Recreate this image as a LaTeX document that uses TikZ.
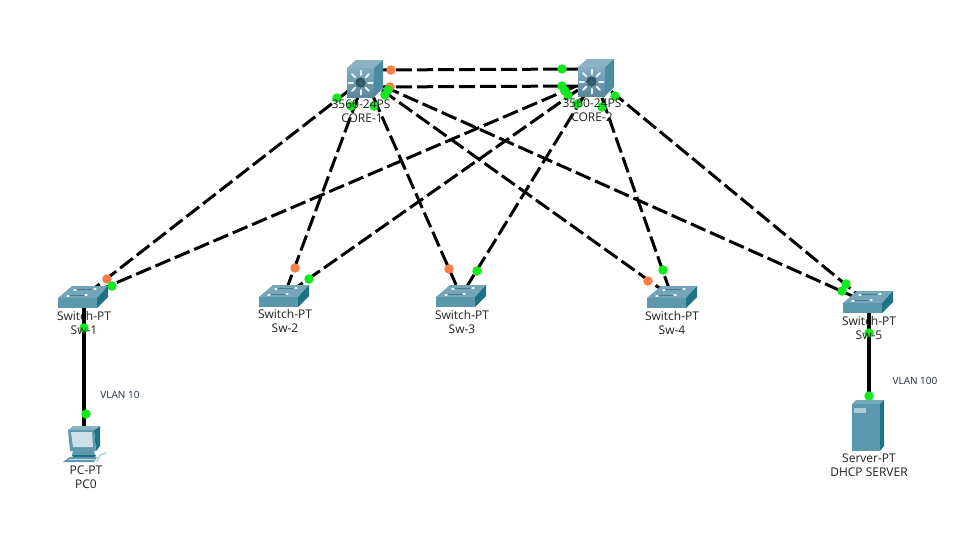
\documentclass[tikz,border=0pt]{standalone}
\usepackage{fontspec}
\setmainfont{Open Sans}
\definecolor{ledg}{HTML}{14E81E}
\definecolor{ledo}{HTML}{FA7D45}
\definecolor{tealtop}{HTML}{74A5B8}
\definecolor{tealfront}{HTML}{5B98AE}
\definecolor{tealside}{HTML}{1E7286}
\definecolor{coretop}{HTML}{8AB2C3}
\definecolor{corefront}{HTML}{6A9FB5}
\definecolor{coreside}{HTML}{4D8BA3}
\definecolor{labelc}{HTML}{202020}
\definecolor{vlanc}{HTML}{1C2A44}
\tikzset{
  trunk/.style={draw=black,line width=3pt,dash pattern=on 16pt off 5pt},
  access/.style={draw=black,line width=3.4pt},
  upg/.style={circle,fill=ledg,draw=none,minimum size=9.5pt,inner sep=0pt},
  upo/.style={circle,fill=ledo,draw=none,minimum size=9.5pt,inner sep=0pt},
  lbl/.style={font=\fontsize{12}{13}\selectfont,text=labelc,inner sep=0pt},
  vlan/.style={font=\fontsize{10}{11}\selectfont,text=vlanc,inner sep=0pt},
  switchicon/.pic={
    \fill[tealtop] (0,0) -- (14,-12) -- (50,-12) -- (39,0) -- cycle;
    \fill[tealfront] (0,0) -- (39,0) -- (39,10) -- (0,10) -- cycle;
    \fill[tealside] (39,0) -- (50,-12) -- (50,-1) -- (39,10) -- cycle;
    \draw[tealfront!80!black,line width=.6pt] (12,-3) -- (28,-3) (18,-9) -- (34,-9);
    \draw[white!90!tealtop,line width=1.3pt,line cap=round]
      (9,-2) -- (11,-2) (27,-3) -- (29,-3) (16,-8) -- (18,-8) (36,-9) -- (38,-9);
  },
  coreicon/.pic={
    \fill[coretop] (0,0) -- (9,-8) -- (36,-8) -- (27,0) -- cycle;
    \shade[top color=corefront!85!white,bottom color=corefront!85!black] (0,0) -- (27,0) -- (27,29) -- (0,29) -- cycle;
    \fill[coreside] (27,0) -- (36,-8) -- (36,20) -- (27,29) -- cycle;
    \foreach \a in {0,45,...,315}
      \draw[white!90!corefront,line width=2pt,line cap=round]
        (13.5,14.5) ++(\a:7.5) -- ++(\a:4.5);
    \shade[inner color=coreside!75!black,outer color=coreside!55!black] (13.5,14.5) circle (5);
  },
  pcicon/.pic={
    \fill[tealside] (27,4) -- (33,0) -- (33,20) -- (29,25) -- cycle;
    \fill[coretop] (1,4) -- (6,0) -- (33,0) -- (27,4) -- cycle;
    \fill[tealfront] (1,4) -- (27,4) -- (29,25) -- (3,25) -- cycle;
    \fill[white!70!tealfront] (4,6) -- (25,6) -- (26,21) -- (6,21) -- cycle;
    \fill[tealfront] (6,25) -- (27,25) -- (28,29) -- (5,29) -- cycle;
    \fill[tealside] (5,29) -- (29,29) -- (28,31) -- (6,31) -- cycle;
    \fill[tealfront] (3,31) -- (30,31) -- (27,36) -- (-4,36) -- cycle;
    \draw[white!70!tealfront,line width=.8pt] (2,33.5) -- (28,33.5);
    \draw[white!60!tealfront,line width=1.8pt,line cap=round] (30,35) -- (33,29) -- (39,27);
  },
  servericon/.pic={
    \fill[tealtop] (0,0) -- (4,-4) -- (32,-4) -- (28,0) -- cycle;
    \fill[tealfront] (0,0) -- (28,0) -- (28,47) -- (0,47) -- cycle;
    \fill[tealside] (28,0) -- (32,-4) -- (32,42) -- (28,47) -- cycle;
    \fill[white!50!tealfront] (2,4) -- (14,4) -- (14,9) -- (2,9) -- cycle;
  },
}
\begin{document}
\begin{tikzpicture}[x=1pt,y=-1pt]
\useasboundingbox (0,0) rectangle (959,544);
\fill[white] (0,0) rectangle (959,544);
% device centres
\coordinate (core1) at (365,78);
\coordinate (core2) at (595,78);
\coordinate (sw1) at (83,297);
\coordinate (sw2) at (284,296);
\coordinate (sw3) at (461,296);
\coordinate (sw4) at (672,297);
\coordinate (sw5) at (868,303);
\coordinate (swa) at (84,300);
\coordinate (swb) at (869,306);
\coordinate (pc) at (84,435);
\coordinate (server) at (869,420);
\coordinate (c1a) at (375,70);
\coordinate (c2a) at (582,69);
\coordinate (c1b) at (375,87);
\coordinate (c2b) at (582,86);
% links
\draw[trunk] (c1a) -- (c2a);
\draw[trunk] (c1b) -- (c2b);
\draw[trunk] (core1) -- (sw1);
\draw[trunk] (core1) -- (sw2);
\draw[trunk] (core1) -- (sw3);
\draw[trunk] (core1) -- (sw4);
\draw[trunk] (core1) -- (sw5);
\draw[trunk] (core2) -- (sw1);
\draw[trunk] (core2) -- (sw2);
\draw[trunk] (core2) -- (sw3);
\draw[trunk] (core2) -- (sw4);
\draw[trunk] (core2) -- (sw5);
\draw[access] (swa) -- (pc);
\draw[access] (swb) -- (server);
% icons
\pic at (347,68) {coreicon};
\pic at (578,67) {coreicon};
\pic at (58,298) {switchicon};
\pic at (259,297) {switchicon};
\pic at (436,297) {switchicon};
\pic at (647,298) {switchicon};
\pic at (843,303) {switchicon};
\pic at (67,426) {pcicon};
\pic at (852,404) {servericon};
% port lights
\node[upo] (l1) at (391,70) {};
\node[upg] (l2) at (562,69) {};
\node[upo] (l3) at (390,87) {};
\node[upg] (l4) at (562,86) {};
\node[upg] (l5) at (337,98) {};
\node[upg] (l6) at (351,106) {};
\node[upg] (l7) at (374,106) {};
\node[upg] (l8) at (385,95) {};
\node[upg] (l9) at (388,90) {};
\node[upg] (l10) at (565,91) {};
\node[upg] (l11) at (568,95) {};
\node[upg] (l12) at (577,104) {};
\node[upg] (l13) at (602,107) {};
\node[upg] (l14) at (615,96) {};
\node[upo] (l15) at (107,279) {};
\node[upg] (l16) at (112,286) {};
\node[upo] (l17) at (295,268) {};
\node[upg] (l18) at (309,279) {};
\node[upo] (l19) at (449,269) {};
\node[upg] (l20) at (477,271) {};
\node[upo] (l21) at (648,281) {};
\node[upg] (l22) at (663,270) {};
\node[upg] (l23) at (846,284) {};
\node[upg] (l24) at (842,291) {};
\node[upg] (l25) at (84,328) {};
\node[upg] (l26) at (86,414) {};
\node[upg] (l27) at (869,333) {};
\node[upg] (l28) at (869,396) {};
% labels
\node[lbl] (t1) at (361,104) {3560-24PS};
\node[lbl] (t2) at (362,118) {CORE-1};
\node[lbl] (t3) at (592,103) {3560-24PS};
\node[lbl] (t4) at (592,117) {CORE-2};
\node[lbl] (t5) at (84,316) {Switch-PT};
\node[lbl] (t6) at (84,330) {Sw-1};
\node[lbl] (t7) at (285,314) {Switch-PT};
\node[lbl] (t8) at (285,328) {Sw-2};
\node[lbl] (t9) at (462,315) {Switch-PT};
\node[lbl] (t10) at (462,329) {Sw-3};
\node[lbl] (t11) at (672,316) {Switch-PT};
\node[lbl] (t12) at (672,330) {Sw-4};
\node[lbl] (t13) at (869,321) {Switch-PT};
\node[lbl] (t14) at (869,335) {Sw-5};
\node[lbl] (t15) at (86,470) {PC-PT};
\node[lbl] (t16) at (86,484) {PC0};
\node[lbl] (t17) at (869,458) {Server-PT};
\node[lbl] (t18) at (869,472) {DHCP SERVER};
\node[vlan] (t19) at (120,395) {VLAN 10};
\node[vlan] (t20) at (915,381) {VLAN 100};
\end{tikzpicture}
\end{document}
